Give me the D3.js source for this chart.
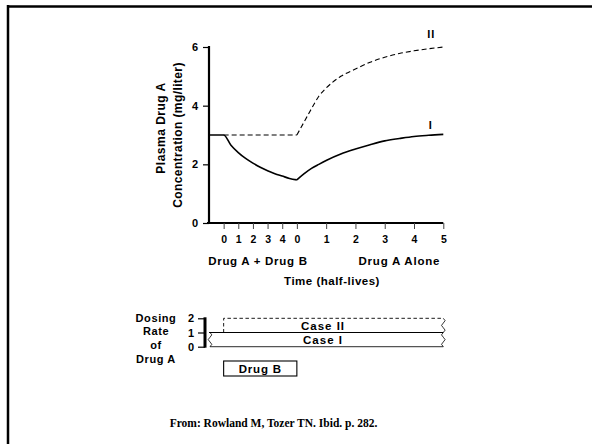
<!DOCTYPE html>
<html><head><meta charset="utf-8">
<script src="https://cdn.jsdelivr.net/npm/d3@7"></script>
<style>
body{margin:0;background:#fff;}
svg{display:block;}
text{font-weight:bold;fill:#000;}
</style></head>
<body>
<svg id="c" width="592" height="444"></svg>
<script>
// ---- data ----
const tickPos    = [-2.5,-2,-1.5,-1,-0.5,0,1,2,3,4,5];
const tickLabels = ["0","1","2","3","4","0","1","2","3","4","5"];
const yTicks = [0,2,4,6];
const phaseLabels = ["Drug A + Drug B","Drug A Alone"];
// Curve I (solid): time in Drug A alone half-lives, concentration mg/liter
const curveI_t = [-3,-2.5,-2.25,-2,-1.75,-1.5,-1.25,-1,-0.75,-0.5,-0.25,0];
const curveI_v = [3,3,2.65,2.4,2.2,2.04,1.9,1.78,1.68,1.6,1.52,1.47];
const curveI2_t = [0,0.25,0.5,0.75,1,1.5,2,2.5,3,3.5,4,4.5,5];
const curveI2_v = [1.47,1.68,1.86,2.0,2.13,2.35,2.52,2.67,2.8,2.88,2.95,2.99,3.02];
// Curve II (dashed)
const curveII_t = [-2.5,-1,0];
const curveII_v = [3,3,3];
const curveII2_t = [0,0.25,0.5,0.75,1,1.5,2,2.5,3,3.5,4,4.5,5];
const curveII2_v = [3,3.45,3.9,4.32,4.6,5.0,5.25,5.48,5.65,5.78,5.87,5.94,6.0];
// dosing rate panel
const dosingTicks = [0,1,2];
const caseI  = {start:-3,   end:5, low:0, high:1, label:"Case I"};
const caseII = {start:-2.5, end:5, low:1, high:2, label:"Case II"};
const drugB  = {start:-2.5, end:0, label:"Drug B"};
const footer = "From: Rowland M, Tozer TN. Ibid. p. 282.";

// ---- drawing ----
const SANS = "'Liberation Sans', Arial, sans-serif";
const svg = d3.select("#c");
// frame (top and left rules)
svg.append("line").attr("x1",7).attr("x2",592).attr("y1",6.5).attr("y2",6.5).attr("stroke","#000").attr("stroke-width",2.5);
svg.append("line").attr("x1",8).attr("x2",8).attr("y1",5).attr("y2",444).attr("stroke","#000").attr("stroke-width",2.5);

const x = d3.scaleLinear().domain([-3,5]).range([209,443.3]);
const y = d3.scaleLinear().domain([0,6]).range([223,47]);

function styleTicks(g, size){
  g.selectAll(".tick text").style("font-family",SANS).style("font-size",size).style("font-weight","bold").attr("fill","#000");
}
// y axis
const ya = svg.append("g").attr("transform","translate(209,0)")
  .call(d3.axisLeft(y).tickValues(yTicks).tickFormat(d3.format("d")).tickSize(6).tickSizeOuter(0).tickPadding(5));
ya.select(".domain").attr("stroke-width",2.2).attr("d","M0,"+(y(6)-1)+"V"+(y(0)+1));
ya.selectAll(".tick line").attr("stroke-width",1.2);
styleTicks(ya,"11px");

// x axis
const xa = svg.append("g").attr("transform","translate(0,223)")
  .call(d3.axisBottom(x).tickValues(tickPos).tickFormat((d,i)=>tickLabels[i]).tickSize(6).tickSizeOuter(0).tickPadding(7));
xa.select(".domain").attr("stroke-width",2.2).attr("d","M207,0H"+x(5));
xa.selectAll(".tick line").attr("stroke-width",1).attr("stroke","#444");
styleTicks(xa,"10.5px");

// curves
const line = d3.line().x(d=>x(d[0])).y(d=>y(d[1])).curve(d3.curveMonotoneX);
const zip = (a,b)=>a.map((t,i)=>[t,b[i]]);
[[curveII_t,curveII_v],[curveII2_t,curveII2_v]].forEach(([t,v])=>{
  svg.append("path").attr("d",line(zip(t,v))).attr("fill","none").attr("stroke","#000")
    .attr("stroke-width",1.1).attr("stroke-dasharray","5,3");
});
[[curveI_t,curveI_v],[curveI2_t,curveI2_v]].forEach(([t,v])=>{
  svg.append("path").attr("d",line(zip(t,v))).attr("fill","none").attr("stroke","#000")
    .attr("stroke-width",1.6);
});
function txt(xx,yy,s,size,ls,anchor,transform){
  const t = svg.append("text").attr("text-anchor",anchor||"start")
    .style("font-family",SANS).style("font-size",size).style("font-weight","bold")
    .style("letter-spacing",(ls||0)+"px").text(s);
  if(transform) t.attr("transform",transform); else t.attr("x",xx).attr("y",yy);
  return t;
}
txt(x(4.45),y(6)-9,"II","11px",1);
txt(x(4.5),y(3)-6,"I","11px",0);

// y title
txt(0,0,"Plasma Drug A","12px",0.5,"middle","translate(165,128) rotate(-90)");
txt(0,0,"Concentration (mg/liter)","12px",0.4,"middle","translate(182,135) rotate(-90)");

// phase labels and x title
txt((x(-3)+x(0))/2+5,265,phaseLabels[0],"11.5px",0.7,"middle");
txt(x(3.5),265,phaseLabels[1],"11.5px",0.8,"middle");
txt(332,285,"Time (half-lives)","11.5px",0.5,"middle");

// ---- dosing rate panel ----
const yl = d3.scaleLinear().domain([0,2]).range([346.7,318.3]);
const la = svg.append("g").attr("transform","translate(205,0)")
  .call(d3.axisLeft(yl).tickValues(dosingTicks).tickFormat(d3.format("d")).tickSize(7).tickSizeOuter(0).tickPadding(4));
la.select(".domain").attr("stroke-width",3).attr("d","M0,"+(yl(2)-1)+"V"+(yl(0)+1));
la.selectAll(".tick line").attr("stroke-width",1.2);
styleTicks(la,"11px");
const dl = ["Dosing","Rate","of","Drug A"], dly=[322,335,349,363];
dl.forEach((s,i)=>txt(156,dly[i],s,"11px",0.6,"middle"));

function wave(xc, y0, y1, amp){
  const n=Math.max(2,Math.round((y1-y0)/5)); let p="M"+xc+","+y0;
  for(let i=1;i<=n;i++){const yy=y0+(y1-y0)*i/n; p+="L"+(xc+(i%2?amp:-amp))+","+(yy-(y1-y0)/n/2)+"L"+xc+","+yy;}
  return p;
}
// Case I
svg.append("line").attr("x1",x(caseI.start)+1).attr("x2",x(caseI.end)).attr("y1",yl(caseI.low)).attr("y2",yl(caseI.low))
  .attr("stroke","#555").attr("stroke-width",1.3);
svg.append("line").attr("x1",x(caseI.start)).attr("x2",x(caseI.end)).attr("y1",yl(caseI.high)).attr("y2",yl(caseI.high))
  .attr("stroke","#000").attr("stroke-width",1.1);
svg.append("path").attr("d",wave(x(caseI.start)+1,yl(caseI.high),yl(caseI.low),1.8)).attr("fill","none").attr("stroke","#000").attr("stroke-width",0.8);
// Case II
svg.append("path").attr("d","M"+x(caseII.start)+","+yl(caseII.low)+"V"+yl(caseII.high)+"H"+x(caseII.end))
  .attr("fill","none").attr("stroke","#000").attr("stroke-width",0.9).attr("stroke-dasharray","3.5,2.5");
svg.append("path").attr("d",wave(x(caseII.end),yl(caseII.high),yl(caseI.low),1.8)).attr("fill","none").attr("stroke","#000").attr("stroke-width",0.8);
txt(323,yl(1.5)+4.5,caseII.label,"11.5px",1,"middle");
txt(323,yl(0.5)+4.5,caseI.label,"11.5px",1,"middle");
// Drug B box
svg.append("rect").attr("x",x(drugB.start)).attr("y",361).attr("width",x(drugB.end)-x(drugB.start)).attr("height",15)
  .attr("fill","none").attr("stroke","#000").attr("stroke-width",1.1);
txt((x(drugB.start)+x(drugB.end))/2,372.5,drugB.label,"11.5px",0.8,"middle");

// footer
svg.append("text").attr("x",273.5).attr("y",426.5).attr("text-anchor","middle")
  .style("font-family","'Liberation Serif', 'Times New Roman', serif").style("font-size","11.5px").style("font-weight","bold")
  .text(footer);
</script>
</body></html>
